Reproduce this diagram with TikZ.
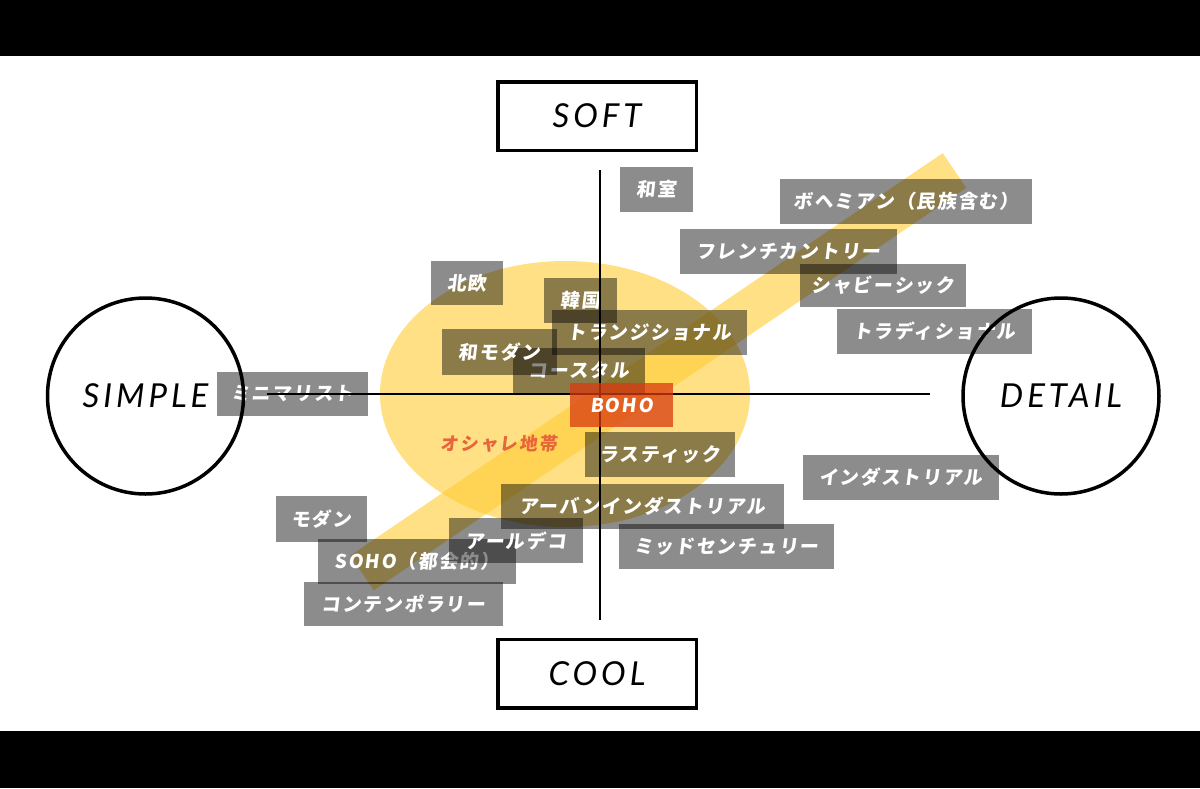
\documentclass[tikz,border=0pt]{standalone}
\usepackage{fontspec}
\usepackage{tikz}
\usetikzlibrary{positioning,calc}
\newfontfamily\jpfont{Noto Sans CJK JP}[FakeSlant=0.12,LetterSpace=9]
\newfontfamily\axisfont{Lato}[LetterSpace=12]
\definecolor{Zone}{HTML}{FFCC33}
\definecolor{Boho}{HTML}{D93A10}
\definecolor{Note}{HTML}{E8643A}

\begin{document}
\begin{tikzpicture}[x=1pt,y=-1pt,
  tag/.style={fill=black,fill opacity=0.45,text opacity=1,text=white,inner sep=0pt,
    minimum height=45pt,font=\jpfont\bfseries\fontsize{19}{19}\selectfont},
  pole/.style={draw,line width=3.5pt,inner sep=0pt,
    font=\axisfont\itshape\fontsize{33}{33}\selectfont},
  zone/.style={fill=Zone,fill opacity=0.6}]
  \useasboundingbox (0,0) rectangle (1200,788);
  \fill (0,0) rectangle (1200,56);
  \fill (0,731) rectangle (1200,788);
  % yellow zone and band
  \fill[zone] (565,394) ellipse [x radius=185, y radius=133];
  \coordinate (bandlow) at (362,573);
  \coordinate (bandhigh) at (954.5,170.5);
  \draw[Zone,draw opacity=0.6,line width=42pt] (bandlow) -- (bandhigh);
  % style tags
  \node[tag,minimum width=73pt] (washitsu) at (656.5,189.5) {和室};
  \node[tag,minimum width=252pt] (bohemian) at (906,201) {ボヘミアン（民族含む）};
  \node[tag,minimum width=217pt] (french) at (788.5,251.5) {フレンチカントリー};
  \node[tag,minimum width=166pt,minimum height=43pt] (shabby) at (883,285.5) {シャビーシック};
  \node[tag,minimum width=195pt] (traditional) at (934.5,331.5) {トラディショナル};
  \node[tag,minimum width=72pt,minimum height=44pt] (nordic) at (467,283) {北欧};
  \node[tag,minimum width=73pt] (korea) at (580.5,300.5) {韓国};
  \node[tag,minimum width=195pt] (transitional) at (649.5,332.5) {トランジショナル};
  \node[tag,minimum width=132pt] (coastal) at (579,370.5) {コースタル};
  \node[tag,minimum width=115pt,minimum height=46pt] (wamodern) at (499.5,352) {和モダン};
  \node[tag,minimum width=151pt,minimum height=44pt] (minimal) at (292.5,394) {ミニマリスト};
  \node[tag,minimum width=150pt] (rustic) at (660,454.5) {ラスティック};
  \node[tag,minimum width=196pt] (industrial) at (901,477.5) {インダストリアル};
  \node[tag,minimum width=283pt] (urban) at (642.5,506) {アーバンインダストリアル};
  \node[tag,minimum width=215pt] (midcentury) at (726.5,546.5) {ミッドセンチュリー};
  \node[tag,minimum width=91pt,minimum height=46pt] (modern) at (321.5,519) {モダン};
  \node[tag,minimum width=198pt] (soho) at (417,561.5) {SOHO（都会的）};
  \node[tag,minimum width=134pt] (artdeco) at (516,540.5) {アールデコ};
  \node[tag,minimum width=199pt,minimum height=44pt] (contemporary) at (403.5,604) {コンテンポラリー};
  % axes
  \coordinate (axtop) at (600,170);
  \coordinate (axbottom) at (600,620);
  \coordinate (axleft) at (267,394);
  \coordinate (axright) at (930,394);
  \draw[line width=2.5pt] (axtop) -- (axbottom);
  \draw[line width=2.5pt] (axleft) -- (axright);
  \node[tag,fill=Boho,fill opacity=0.75,minimum width=103pt,minimum height=44pt] (boho) at (621.5,405) {BOHO};
  % poles
  \node[pole,minimum width=198.5pt,minimum height=68.5pt] (soft) at (597,116) {SOFT};
  \node[pole,minimum width=198.5pt,minimum height=68.5pt] (cool) at (597,673.5) {COOL};
  \node[pole,circle,minimum size=196pt] (simple) at (145.5,396) {SIMPLE};
  \node[pole,circle,minimum size=196pt] (detail) at (1061,396) {DETAIL};
  \node[text=Note,font=\jpfont\bfseries\fontsize{18}{18}\selectfont] (oshare) at (499,444) {オシャレ地帯};
\end{tikzpicture}
\end{document}
